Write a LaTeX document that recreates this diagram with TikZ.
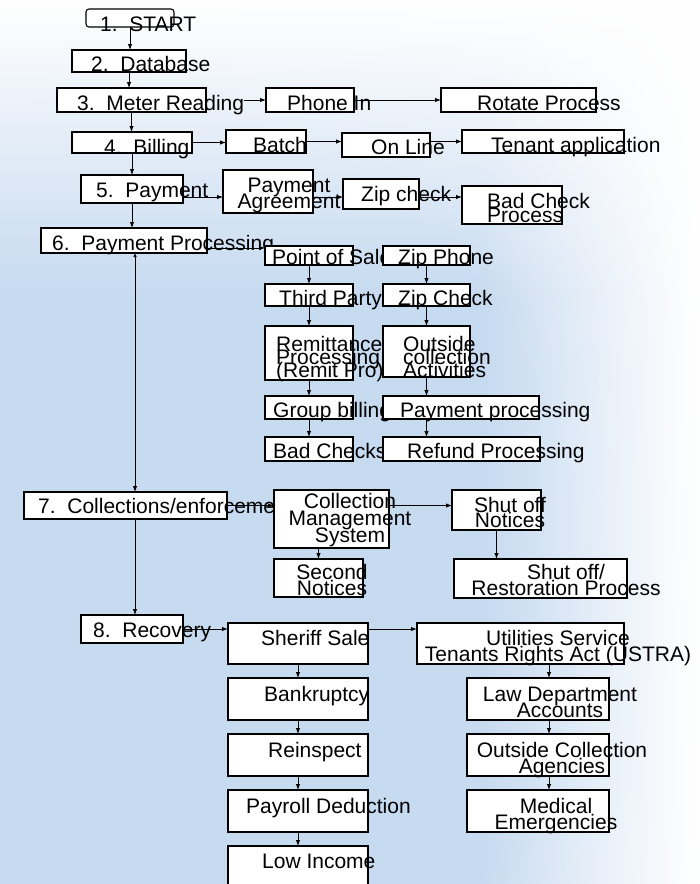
\documentclass[tikz,border=0pt]{standalone}
\usepackage{fontspec}
\setmainfont{Liberation Sans}
\usetikzlibrary{arrows.meta, fadings}

\definecolor{sky}{RGB}{198,218,240}
\pgfdeclareradialshading{skyfade}{\pgfpoint{0bp}{0bp}}{color(0bp)=(sky); color(14bp)=(sky); color(36bp)=(white); color(50bp)=(white)}
\setlength{\lineskiplimit}{-50pt}

\begin{document}
\begin{tikzpicture}[x=1pt, y=-1pt, >={Latex[length=6pt,width=4.5pt]},
  box/.style={draw, fill=white, line width=1.1pt, inner sep=0pt, outer sep=0pt},
  txt/.style={inner sep=0pt, anchor=base west, font=\fontsize{21}{16}\selectfont},
  mtxt/.style={txt, align=center, anchor=base},
  link/.style={->, line width=1pt}]

\useasboundingbox (0,0) rectangle (700,884);
\clip (0,0) rectangle (700,884);
% sky background
\shade[shading=skyfade] (100,580) circle (850);
\fill[white, path fading=south] (0,0) rectangle (700,300);
\fill[white, path fading=west] (480,0) rectangle (700,884);

%\draw[step=50, gray!40] (0,0) grid (700,884);

% main chain
\node[box, rounded corners=3pt, minimum width=88, minimum height=18] (start) at (130,18) {};
\node[txt] (startT) at (100,31) {1.~~START};
\node[box, minimum width=114, minimum height=22] (db) at (129,61) {};
\node[txt] (dbT) at (91,71) {2.~~Database};

\node[box, minimum width=149, minimum height=24] (mr) at (131.5,100) {};
\node[txt] (mrT) at (77,110) {3.~~Meter Reading};
\node[box, minimum width=88, minimum height=24] (ph) at (310,100) {};
\node[txt] (phT) at (287,110) {Phone In};
\node[box, minimum width=155, minimum height=24] (rot) at (518.5,100) {};
\node[txt] (rotT) at (477,110) {Rotate Process};

\node[box, minimum width=120, minimum height=21] (bil) at (132,142.5) {};
\node[txt] (bilT) at (104,154) {4.~~Billing};
\node[box, minimum width=80, minimum height=23] (bat) at (266,141.5) {};
\node[txt] (batT) at (253,152) {Batch};
\node[box, minimum width=88, minimum height=24] (ol) at (386,145) {};
\node[txt] (olT) at (371,154) {On Line};
\node[box, minimum width=162, minimum height=23] (ten) at (543,141.5) {};
\node[txt] (tenT) at (491,152) {Tenant application};

\node[box, minimum width=102, minimum height=28] (pay) at (132,189) {};
\node[txt] (payT) at (96,197) {5.~~Payment};
\node[box, minimum width=90, minimum height=43] (pa) at (268,191.5) {};
\node[mtxt] (paT) at (289,208) {Payment\\Agreement};
\node[box, minimum width=76, minimum height=30] (zip) at (381,194) {};
\node[txt] (zipT) at (361,201) {Zip check};
\node[box, minimum width=100, minimum height=38] (bcp) at (512,205) {};
\node[txt, align=left, font=\fontsize{21}{14}\selectfont] (bcpT) at (487,222) {Bad Check\\Process};

\node[box, minimum width=166, minimum height=25] (pp) at (124,240.5) {};
\node[txt] (ppT) at (52,250) {6.~~Payment Processing};

% payment processing columns
\node[box, minimum width=88, minimum height=19] (pos) at (309,255.5) {};
\node[txt] (posT) at (272,264) {Point of Sale};
\node[box, minimum width=87, minimum height=19] (zp) at (426.5,255.5) {};
\node[txt] (zpT) at (398,264) {Zip Phone};
\node[box, minimum width=88, minimum height=22] (tp) at (309,295) {};
\node[txt] (tpT) at (279,305) {Third Party};
\node[box, minimum width=87, minimum height=22] (zc) at (426.5,295) {};
\node[txt] (zcT) at (398,305) {Zip Check};
\node[box, minimum width=88, minimum height=54] (rem) at (309,353) {};
\node[txt, align=left, font=\fontsize{21}{13}\selectfont] (remT) at (276,377) {Remittance\\Processing\\(Remit Pro)};
\node[box, minimum width=87, minimum height=51] (oc) at (426.5,351.5) {};
\node[txt, align=left, font=\fontsize{21}{13}\selectfont] (ocT) at (403,377) {Outside\\collection\\Activities};
\node[box, minimum width=88, minimum height=23] (gb) at (309,407.5) {};
\node[txt] (gbT) at (273,417) {Group billing};
\node[box, minimum width=156, minimum height=23] (pr) at (461,407.5) {};
\node[txt] (prT) at (400,417) {Payment processing};
\node[box, minimum width=88, minimum height=24] (bc) at (309,449) {};
\node[txt] (bcT) at (273,458) {Bad Checks};
\node[box, minimum width=157, minimum height=24] (rf) at (461.5,449) {};
\node[txt] (rfT) at (407,458) {Refund Processing};

% collections
\node[box, minimum width=203, minimum height=27] (col) at (125.5,505.5) {};
\node[txt] (colT) at (38,513) {7.~~Collections/enforcement};
\node[box, minimum width=115, minimum height=58] (cms) at (331.5,519) {};
\node[mtxt, font=\fontsize{21}{17}\selectfont] (cmsT) at (350,542) {Collection\\Management\\System};
\node[box, minimum width=89, minimum height=40] (sho) at (496.5,510) {};
\node[mtxt, font=\fontsize{21}{15}\selectfont] (shoT) at (510,527) {Shut off\\Notices};
\node[box, minimum width=89, minimum height=38] (sn) at (318.5,578) {};
\node[mtxt] (snT) at (332,595) {Second\\Notices};
\node[box, minimum width=173, minimum height=39] (rest) at (540.5,578.5) {};
\node[mtxt] (restT) at (566,595) {Shut off/\\Restoration Process};

% recovery
\node[box, minimum width=102, minimum height=28] (rec) at (132,629) {};
\node[txt] (recT) at (93,637) {8.~~Recovery};
\node[box, minimum width=140, minimum height=41] (sh) at (298,643.5) {};
\node[txt] (shT) at (261,645) {Sheriff Sale};
\node[box, minimum width=140, minimum height=42] (bk) at (298,699) {};
\node[txt] (bkT) at (264,701) {Bankruptcy};
\node[box, minimum width=140, minimum height=42] (ri) at (298,755) {};
\node[txt] (riT) at (268,757) {Reinspect};
\node[box, minimum width=140, minimum height=42] (pd) at (298,811) {};
\node[txt] (pdT) at (246,813) {Payroll Deduction};
\node[box, minimum width=140, minimum height=44] (li) at (298,868) {};
\node[txt] (liT) at (262,868) {Low Income};

\node[box, minimum width=207, minimum height=41] (ut) at (520.5,643.5) {};
\node[mtxt] (utT) at (558,661) {Utilities Service\\Tenants Rights Act (USTRA)};
\node[box, minimum width=142, minimum height=42] (law) at (538,699) {};
\node[mtxt] (lawT) at (560,717) {Law Department\\Accounts};
\node[box, minimum width=142, minimum height=42] (oca) at (538,755) {};
\node[mtxt] (ocaT) at (562,773) {Outside Collection\\Agencies};
\node[box, minimum width=142, minimum height=42] (med) at (538,811) {};
\node[mtxt] (medT) at (556,829) {Medical\\Emergencies};

% connectors
\coordinate (r5) at (0,197);
\coordinate (r6) at (0,248);
\coordinate (trunk) at (135,0);
\coordinate (rcol) at (549,0);

\foreach \a/\b in {start/db, db/mr, mr/bil, bil/pay, pay/pp}
  \draw[link] (\a.south) -- (\a.south |- \b.north);

\draw[link] (mrT.east |- ph.west) -- (ph.west);
\draw[link] (ph.east) -- (rot.west);
\draw[link] (bil.east) -- (bil.east -| bat.west);
\draw[link] (bat.east) -- (bat.east -| ol.west);
\draw[link] (ol.east |- ten.west) -- (ten.west);
\draw[link] (pay.east |- r5) -- (pa.west |- r5);
\draw[link] (pa.east |- r5) -- (zip.west |- r5);
\draw[link] (zip.east |- r5) -- (bcp.west |- r5);
\draw[link] (pp.east |- r6) -- (pos.west |- r6);

\foreach \a/\b in {pos/tp, tp/rem, rem/gb, gb/bc, zp/zc, zc/oc}
  \draw[link] (\a.south) -- (\b.north);
\draw[link] (oc.south) -- (oc.south |- pr.north);
\draw[link] (oc.south |- pr.south) -- (oc.south |- rf.north);

\draw[line width=1pt, {Latex[length=4pt,width=3.5pt]}-{Latex[length=6pt,width=4.5pt]}] (trunk |- pp.south) -- (trunk |- col.north);
\draw[link] (trunk |- col.south) -- (trunk |- rec.north);

\draw[link] (col.east) -- (col.east -| cms.west);
\draw[link] (cms.east |- col.east) -- (col.east -| sho.west);
\draw[link] (sn.north |- cms.south) -- (sn.north);
\draw[link] (sho.south) -- (sho.south |- rest.north);

\draw[link] (rec.east) -- (rec.east -| sh.west);
\draw[link] (sh.east |- rec.east) -- (rec.east -| ut.west);
\foreach \a/\b in {sh/bk, bk/ri, ri/pd, pd/li}
  \draw[link] (\a.south) -- (\b.north);
\foreach \a/\b in {ut/law, law/oca, oca/med}
  \draw[link] (rcol |- \a.south) -- (rcol |- \b.north);

\end{tikzpicture}
\end{document}
